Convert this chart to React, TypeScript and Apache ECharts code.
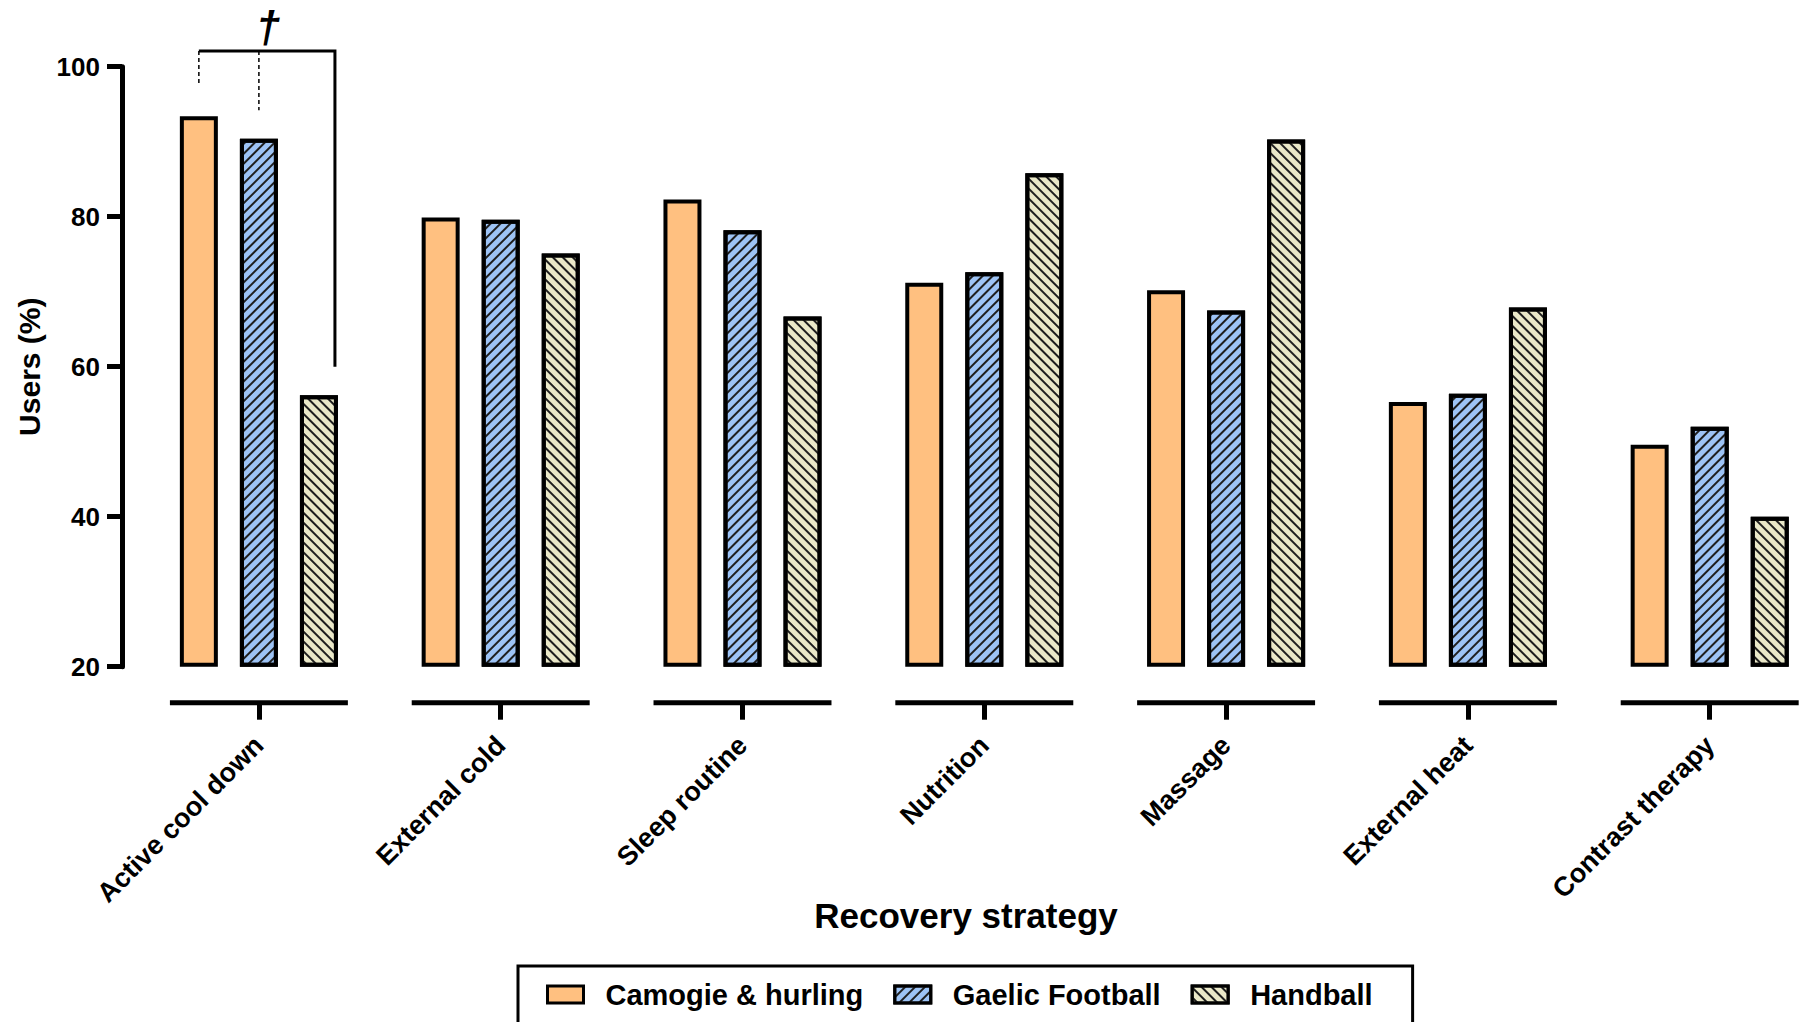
import React, { useEffect, useRef } from "react";
import * as echarts from "echarts";

const categories = [
  "Active cool down",
  "External cold",
  "Sleep routine",
  "Nutrition",
  "Massage",
  "External heat",
  "Contrast therapy",
];
const seriesNames = ["Camogie & hurling", "Gaelic Football", "Handball"];
const camogieHurling = [93.4, 79.9, 82.3, 71.2, 70.2, 55.3, 49.6];
const gaelicFootball = [90.4, 79.6, 78.2, 72.6, 67.5, 56.4, 52.0];
const handball = [56.2, 75.1, 66.7, 85.8, 90.3, 67.9, 40.0];
const yTicks = [20, 40, 60, 80, 100];

// significance bracket (Active cool down group), in data units
const bracketLevel = 102.1;
const bracketRightEnd = 60;
const dashedEnds = [97.6, 94.2];
const daggerLevel = 105.3;
const daggerText = "†";

const FONT = '"Liberation Sans", Arial, Helvetica, sans-serif';
const COLORS = ["#FFC080", "#9DC3F5", "#EAE8C8"];
const BAR_WIDTH = 38;
const BAR_GAP = 0.58;
const X_AXIS_OFFSET = 36;
const Y_MIN = yTicks[0];
const Y_MAX = yTicks[yTicks.length - 1];
const CHART_W = 1840;

const decals: any[] = [
  null,
  {
    symbol: "rect",
    symbolSize: 1,
    color: "#1e1e1e",
    dashArrayX: [1, 0],
    dashArrayY: [2, 4.2],
    rotation: -Math.PI / 4,
  },
  {
    symbol: "rect",
    symbolSize: 1,
    color: "#1e1e1e",
    dashArrayX: [1, 0],
    dashArrayY: [2, 4.6],
    rotation: Math.PI / 4,
  },
];

export default function App() {
  const ref = useRef<HTMLDivElement>(null);

  useEffect(() => {
    if (!ref.current) return;
    const chart = echarts.init(ref.current, null, { renderer: "svg" });
    const allValues = [camogieHurling, gaelicFootball, handball];

    const series: any[] = [];
    allValues.forEach((vals, i) => {
      const stack = "s" + i;
      series.push({
        name: "base" + i,
        type: "bar",
        stack,
        barWidth: BAR_WIDTH,
        barGap: BAR_GAP * 100 + "%",
        silent: true,
        itemStyle: { color: "rgba(0,0,0,0)" },
        data: vals.map(() => Y_MIN),
      });
      const itemStyle: any = {
        color: COLORS[i],
        borderColor: "#000",
        borderWidth: 4,
      };
      if (decals[i]) itemStyle.decal = decals[i];
      series.push({
        name: seriesNames[i],
        type: "bar",
        stack,
        barWidth: BAR_WIDTH,
        barGap: BAR_GAP * 100 + "%",
        clip: false,
        itemStyle,
        data: vals.map((v) => v - Y_MIN),
      });
    });

    const option: any = {
      animation: false,
      backgroundColor: "#ffffff",
      textStyle: { fontFamily: FONT },
      grid: { left: 138, right: 9.4, top: 66.7, bottom: 355.3 },
      legend: {
        data: seriesNames,
        left: 518,
        top: 966,
        orient: "horizontal",
        icon: "rect",
        itemWidth: 36,
        itemHeight: 17,
        itemGap: 30,
        padding: [14, 40, 30, 28],
        borderColor: "#000",
        borderWidth: 3,
        borderRadius: 0,
        itemStyle: { borderWidth: 3 },
        textStyle: {
          fontFamily: FONT,
          fontSize: 29,
          fontWeight: "bold",
          color: "#000",
          padding: [0, 0, 0, 17],
        },
      },
      xAxis: {
        type: "category",
        data: categories,
        offset: X_AXIS_OFFSET,
        axisLine: { show: false },
        axisTick: {
          show: true,
          alignWithLabel: true,
          length: 17,
          lineStyle: { color: "#000", width: 5 },
        },
        axisLabel: {
          interval: 0,
          rotate: 45,
          margin: 38,
          fontFamily: FONT,
          fontSize: 27,
          fontWeight: "bold",
          color: "#000",
        },
        splitLine: { show: false },
      },
      yAxis: {
        type: "value",
        min: Y_MIN,
        max: Y_MAX,
        interval: 20,
        offset: 16,
        name: "Users (%)",
        nameLocation: "middle",
        nameGap: 78,
        nameTextStyle: {
          fontFamily: FONT,
          fontSize: 30,
          fontWeight: "bold",
          color: "#000",
        },
        axisLine: { show: true, lineStyle: { color: "#000", width: 5 } },
        axisTick: { show: true, length: 15, lineStyle: { color: "#000", width: 5 } },
        axisLabel: {
          margin: 22,
          fontFamily: FONT,
          fontSize: 26,
          fontWeight: "bold",
          color: "#000",
        },
        splitLine: { show: false },
      },
      series,
    };

    chart.setOption(option);

    const xPx = (c: string) => chart.convertToPixel({ xAxisIndex: 0 }, c) as number;
    const yPx = (v: number) => chart.convertToPixel({ yAxisIndex: 0 }, v) as number;

    const c0 = xPx(categories[0]);
    const band = xPx(categories[1]) - c0;
    const segY = yPx(Y_MIN) + X_AXIS_OFFSET;
    const halfSeg = band * 0.368;
    const slot = BAR_WIDTH * (1 + BAR_GAP);

    const elements: any[] = [];
    categories.forEach((c) => {
      const cx = xPx(c);
      elements.push({
        type: "line",
        shape: { x1: cx - halfSeg, y1: segY, x2: cx + halfSeg, y2: segY },
        style: { stroke: "#000", lineWidth: 5 },
        silent: true,
      });
    });

    const leftX = c0 - slot;
    const midX = c0;
    const rightX = c0 + slot + 16;
    const topY = yPx(bracketLevel);
    elements.push({
      type: "polyline",
      shape: {
        points: [
          [leftX, topY],
          [rightX, topY],
          [rightX, yPx(bracketRightEnd)],
        ],
      },
      style: { stroke: "#000", lineWidth: 3, fill: null },
      silent: true,
    });
    [leftX, midX].forEach((x, i) => {
      elements.push({
        type: "line",
        shape: { x1: x, y1: topY, x2: x, y2: yPx(dashedEnds[i]) },
        style: { stroke: "#000", lineWidth: 1.5, lineDash: [4, 3] },
        silent: true,
      });
    });
    elements.push({
      type: "text",
      x: c0 + 9,
      y: yPx(daggerLevel),
      style: {
        text: daggerText,
        fontFamily: FONT,
        fontSize: 44,
        fontStyle: "italic",
        fontWeight: "bold",
        fill: "#000",
        align: "center",
        verticalAlign: "middle",
        textAlign: "center",
        textVerticalAlign: "middle",
      },
      silent: true,
    });
    elements.push({
      type: "text",
      x: 966,
      y: 915,
      style: {
        text: "Recovery strategy",
        fontFamily: FONT,
        fontSize: 35,
        fontWeight: "bold",
        fill: "#000",
        align: "center",
        verticalAlign: "middle",
        textAlign: "center",
        textVerticalAlign: "middle",
      },
      silent: true,
    });

    chart.setOption({ graphic: { elements } });

    return () => chart.dispose();
  }, []);

  return (
    <div
      style={{
        position: "fixed",
        left: 0,
        top: 0,
        width: 1809,
        height: 1022,
        overflow: "hidden",
        background: "#fff",
      }}
    >
      <div ref={ref} style={{ width: CHART_W, height: 1022 }} />
    </div>
  );
}
